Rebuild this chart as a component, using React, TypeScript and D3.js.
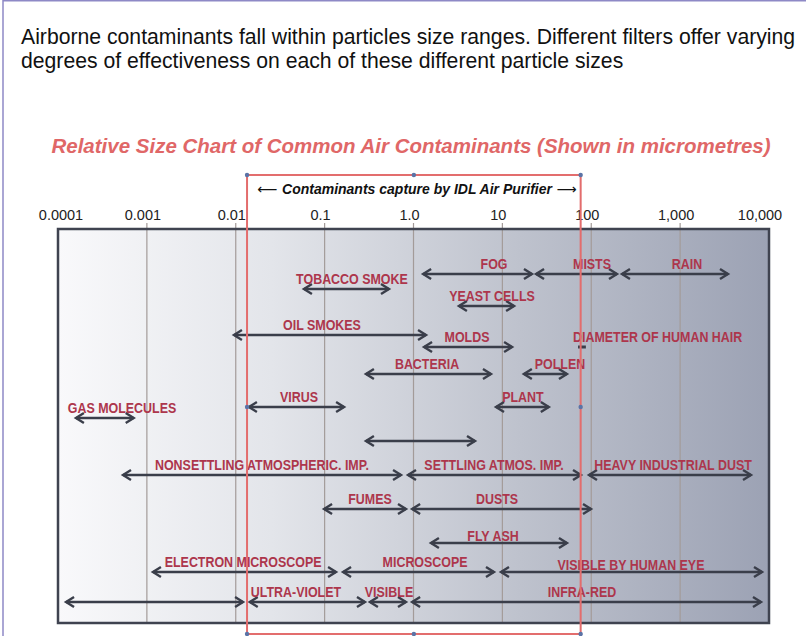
import * as d3 from 'd3';
import React, { useEffect, useRef } from 'react';

// particle size axis (micrometres)
const sizeTicks = [0.0001, 0.001, 0.01, 0.1, 1, 10, 100, 1000, 10000];
const tickLabels = ['0.0001', '0.001', '0.01', '0.1', '1.0', '10', '100', '1,000', '10,000'];

// contaminant ranges
const names = [
  'FOG', 'MISTS', 'RAIN', 'TOBACCO SMOKE', 'YEAST CELLS', 'OIL SMOKES', 'MOLDS',
  'DIAMETER OF HUMAN HAIR', 'BACTERIA', 'POLLEN', 'PLANT', 'VIRUS', 'GAS MOLECULES', '',
  'NONSETTLING ATMOSPHERIC. IMP.', 'SETTLING ATMOS. IMP.', 'HEAVY INDUSTRIAL DUST',
  'FUMES', 'DUSTS', 'FLY ASH', 'ELECTRON MICROSCOPE', 'MICROSCOPE', 'VISIBLE BY HUMAN EYE',
  '', 'ULTRA-VIOLET', 'VISIBLE', 'INFRA-RED',
];
const lows = [
  1.25, 23.3, 216, 0.057, 3.16, 0.0093, 1.28,
  71, 0.284, 17, 8.26, 0.0137, 0.000155, 0.284,
  0.000525, 0.845, 91.9,
  0.096, 0.94, 1.53, 0.00114, 0.157, 9.4,
  0.00012, 0.014, 0.315, 0.94,
];
const highs = [
  22.1, 200, 3548, 0.544, 13.9, 1.42, 13.2,
  87, 7.64, 54.7, 34.2, 0.17, 0.00073, 5.05,
  0.743, 78.7, 6440,
  0.845, 102, 54.7, 0.138, 8.26, 8560,
  0.0124, 0.292, 0.845, 8340,
];
const labelAt = [
  8.05, 102, 1195, 0.203, 7.64, 0.0934, 4.0,
  62.3, 1.42, 44.5, 17, 0.0515, 0.000525, 1,
  0.0197, 8.05, 832,
  0.324, 8.7, 7.84, 0.0121, 1.35, 280,
  1, 0.0476, 0.53, 78.7,
];
const rows = [
  'fog', 'fog', 'fog', 'tobacco', 'yeast', 'oil', 'molds',
  'molds', 'bacteria', 'bacteria', 'plant', 'plant', 'gas', 'blank',
  'settling', 'settling', 'settling',
  'dusts', 'dusts', 'flyash', 'optics', 'optics', 'optics',
  'spectrum', 'spectrum', 'spectrum', 'spectrum',
];

// range captured by the purifier
const purifierRange = [0.0134, 76];

const W = 806;
const H = 636;

const SizeChart: React.FC = () => {
  const ref = useRef<HTMLDivElement>(null);

  useEffect(() => {
    const box = { left: 58, right: 769, top: 229, bottom: 623 };

    const x = d3.scaleLog().domain([0.0001, 10000]).range([box.left, box.right]);
    const rowY = d3
      .scaleOrdinal<string, number>()
      .domain(['fog', 'tobacco', 'yeast', 'oil', 'molds', 'bacteria', 'plant', 'gas', 'blank', 'settling', 'dusts', 'flyash', 'optics', 'spectrum'])
      .range([274, 289, 306, 335, 347, 374, 407, 418, 441, 475, 509, 543, 572, 602]);

    const svg = d3
      .create('svg')
      .attr('width', W)
      .attr('height', H)
      .attr('viewBox', [0, 0, W, H])
      .attr('style', 'position:absolute;left:0;top:0;background:#fff;font-family:"Liberation Sans",Arial,sans-serif;');

    // outer frame
    svg.append('line').attr('x1', 3).attr('x2', W).attr('y1', 0.75).attr('y2', 0.75)
      .attr('stroke', '#8e89c6').attr('stroke-width', 1.5);
    svg.append('line').attr('x1', 3).attr('x2', 3).attr('y1', 0).attr('y2', H)
      .attr('stroke', '#8e89c6').attr('stroke-width', 1.5);

    // intro text
    const intro = svg.append('text').attr('x', 21).attr('font-size', 21.2).attr('fill', '#111');
    intro.append('tspan').attr('x', 21).attr('y', 44)
      .text('Airborne contaminants fall within particles size ranges. Different filters offer varying');
    intro.append('tspan').attr('x', 21).attr('y', 68)
      .text('degrees of effectiveness on each of these different particle sizes');

    // title
    svg.append('text')
      .attr('x', 411).attr('y', 153)
      .attr('text-anchor', 'middle')
      .attr('font-size', 20.5).attr('font-weight', 'bold').attr('font-style', 'italic')
      .attr('fill', '#e06767')
      .text('Relative Size Chart of Common Air Contaminants (Shown in micrometres)');

    // gradient background
    const grad = svg.append('defs').append('linearGradient').attr('id', 'bg')
      .attr('x1', '0%').attr('x2', '100%').attr('y1', '0%').attr('y2', '0%');
    grad.append('stop').attr('offset', '0%').attr('stop-color', '#f9f9fb');
    grad.append('stop').attr('offset', '30%').attr('stop-color', '#e3e5ea');
    grad.append('stop').attr('offset', '65%').attr('stop-color', '#bec2cd');
    grad.append('stop').attr('offset', '100%').attr('stop-color', '#9ca2b4');

    svg.append('rect')
      .attr('x', box.left).attr('y', box.top)
      .attr('width', box.right - box.left).attr('height', box.bottom - box.top)
      .attr('fill', 'url(#bg)');

    // decade gridlines + tick marks
    svg.append('g')
      .selectAll('line')
      .data(sizeTicks.slice(1, -1))
      .join('line')
      .attr('x1', d => x(d)).attr('x2', d => x(d))
      .attr('y1', box.top - 6).attr('y2', box.bottom)
      .attr('stroke', '#a39b99').attr('stroke-width', 1.2);

    svg.append('g')
      .selectAll('text')
      .data(sizeTicks)
      .join('text')
      .attr('x', (d, i) => x(d) - (i === 0 ? -3 : i === sizeTicks.length - 1 ? 9 : 4))
      .attr('y', 220)
      .attr('text-anchor', 'middle')
      .attr('font-size', 14.5)
      .attr('fill', '#222')
      .text((d, i) => tickLabels[i]);

    svg.append('rect')
      .attr('x', box.left).attr('y', box.top)
      .attr('width', box.right - box.left).attr('height', box.bottom - box.top)
      .attr('fill', 'none').attr('stroke', '#3f4350').attr('stroke-width', 2.5);

    // range arrows
    const ink = '#3a3e4a';
    const g = svg.append('g');
    names.forEach((name, i) => {
      const x0 = x(lows[i]);
      const x1 = x(highs[i]);
      const y = rowY(rows[i]);
      if (x1 - x0 < 20) {
        // tiny marker (hair diameter)
        g.append('line').attr('x1', x0).attr('x2', x1).attr('y1', y).attr('y2', y)
          .attr('stroke', ink).attr('stroke-width', 3);
      } else {
        g.append('line').attr('x1', x0 + 1).attr('x2', x1 - 1).attr('y1', y).attr('y2', y)
          .attr('stroke', ink).attr('stroke-width', 2.4);
        g.append('path')
          .attr('d', `M${x0 + 9},${y - 5}L${x0 + 1},${y}L${x0 + 9},${y + 5}`)
          .attr('fill', 'none').attr('stroke', ink).attr('stroke-width', 2.4);
        g.append('path')
          .attr('d', `M${x1 - 9},${y - 5}L${x1 - 1},${y}L${x1 - 9},${y + 5}`)
          .attr('fill', 'none').attr('stroke', ink).attr('stroke-width', 2.4);
      }
      if (name) {
        const start = name === 'DIAMETER OF HUMAN HAIR';
        const dy = name === 'FLY ASH' ? -2 : name === 'VISIBLE BY HUMAN EYE' ? -2 : -5;
        // condensed bold labels
        g.append('text')
          .attr('transform', `translate(${x(labelAt[i])},${y + dy}) scale(0.83,1)`)
          .attr('text-anchor', start ? 'start' : 'middle')
          .attr('font-weight', 'bold')
          .attr('font-size', 15)
          .attr('fill', '#ad364c')
          .text(name);
      }
    });

    // purifier capture box
    const px0 = x(purifierRange[0]);
    const px1 = x(purifierRange[1]);
    const pmid = (px0 + px1) / 2;
    svg.append('path')
      .attr('d', `M${px0},${H + 2}V175H${px1}V${H + 2}`)
      .attr('fill', 'none').attr('stroke', '#e36d6d').attr('stroke-width', 2);
    svg.append('line').attr('x1', px0).attr('x2', px1).attr('y1', 634).attr('y2', 634)
      .attr('stroke', '#e36d6d').attr('stroke-width', 2);
    const dots: [number, number][] = [
      [px0, 175], [pmid, 175], [px1, 175], [px0, 407], [px1, 407], [px0, 634], [pmid, 634], [px1, 634],
    ];
    svg.append('g')
      .selectAll('circle')
      .data(dots)
      .join('circle')
      .attr('cx', d => d[0]).attr('cy', d => d[1]).attr('r', 2.2)
      .attr('fill', '#5b73a6');

    const sub = svg.append('text')
      .attr('x', 417).attr('y', 194)
      .attr('text-anchor', 'middle')
      .attr('font-size', 14)
      .attr('fill', '#111');
    sub.append('tspan').attr('font-family', '"DejaVu Sans",sans-serif').text('\u27F5 ');
    sub.append('tspan').attr('font-weight', 'bold').attr('font-style', 'italic')
      .text('Contaminants capture by IDL Air Purifier');
    sub.append('tspan').attr('font-family', '"DejaVu Sans",sans-serif').text(' \u27F6');

    d3.select(ref.current).html('');
    d3.select(ref.current).append(() => svg.node());
  }, []);

  return <div ref={ref}></div>;
};

export default function App() {
  return <SizeChart />;
}
